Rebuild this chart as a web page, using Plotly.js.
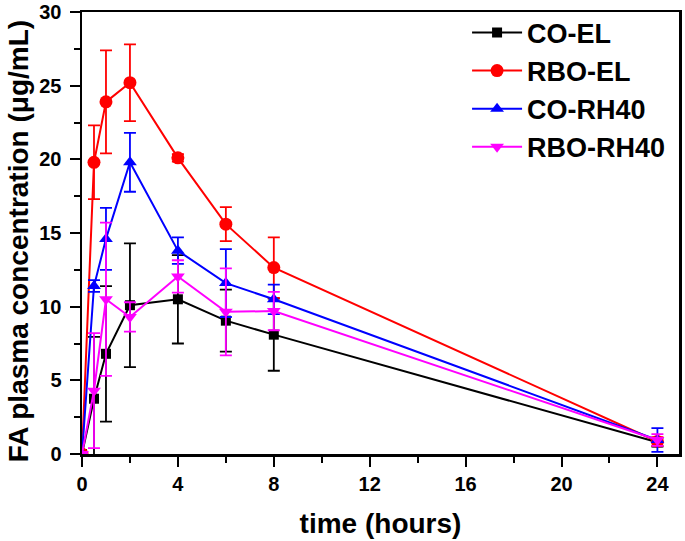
<!DOCTYPE html>
<html>
<head>
<meta charset="utf-8">
<script src="https://cdn.plot.ly/plotly-3.0.1.min.js"></script>
<style>html,body{margin:0;padding:0;background:#fff}#chart{width:685px;height:541px}</style>
</head>
<body>
<div id="chart"></div>
<script>
// time points (hours)
const timeHours = [0, 0.5, 1, 2, 4, 6, 8, 24];
const seriesNames = ["CO-EL", "RBO-EL", "CO-RH40", "RBO-RH40"];

const coEL       = [0, 3.75, 6.8, 10.1, 10.5, 9.05, 8.1, 0.8];
const coELErr    = [0, 4.2, 4.6, 4.2, 3.0, 2.1, 2.45, 0.3];

const rboEL      = [0, 19.8, 23.9, 25.2, 20.1, 15.6, 12.65, 0.85];
const rboELErr   = [0, 2.5, 3.5, 2.6, 0.25, 1.15, 2.05, 0.3];

const coRH40     = [0, 11.4, 14.6, 19.8, 13.8, 11.6, 10.5, 0.95];
const coRH40Err  = [0, 0.4, 2.1, 2.0, 0.9, 2.3, 1.0, 0.8];

const rboRH40    = [0, 4.3, 10.5, 9.3, 12.05, 9.65, 9.7, 0.95];
const rboRH40Err = [0, 3.9, 5.2, 1.0, 1.1, 2.95, 1.3, 0.4];

const colors  = ["#000000", "#ff0000", "#0000ff", "#ff00ff"];
const symbols = ["square", "circle", "triangle-up", "triangle-down"];
const values  = [coEL, rboEL, coRH40, rboRH40];
const errors  = [coELErr, rboELErr, coRH40Err, rboRH40Err];
const sizes   = [10, 13, 12, 12];

const FONT = "Liberation Sans, Arial, sans-serif";

const traces = seriesNames.map((name, i) => ({
  type: "scatter",
  mode: "lines+markers",
  name: name,
  x: timeHours,
  y: values[i],
  line: {color: colors[i], width: 2},
  marker: {symbol: symbols[i], color: colors[i], size: sizes[i]},
  error_y: {type: "data", array: errors[i], visible: true, color: colors[i], thickness: 1.8, width: 6},
  cliponaxis: true
}));

const layout = {
  width: 685, height: 541,
  margin: {l: 82, r: 6, t: 12, b: 87, autoexpand: false},
  paper_bgcolor: "#ffffff",
  plot_bgcolor: "#ffffff",
  font: {family: FONT, color: "#000", size: 20},
  showlegend: true,
  legend: {
    x: 0.645, y: 1.008, xanchor: "left", yanchor: "top",
    bgcolor: "rgba(255,255,255,0)",
    font: {family: FONT, size: 27, color: "#000", weight: "bold"},
    tracegroupgap: 0,
    itemwidth: 50
  },
  xaxis: {
    range: [0, 24.9],
    tickvals: [0, 4, 8, 12, 16, 20, 24],
    ticks: "outside", ticklen: 10, tickwidth: 2, tickcolor: "#000",
    minor: {dtick: 2, ticks: "outside", ticklen: 6, tickwidth: 2, tickcolor: "#000"},
    showline: true, linewidth: 2.5, linecolor: "#000", mirror: true,
    showgrid: false, zeroline: false,
    tickfont: {family: FONT, size: 20, weight: "bold"},
    title: {text: "time (hours)", font: {family: FONT, size: 28, weight: "bold"}, standoff: 20}
  },
  yaxis: {
    range: [0, 30],
    tickvals: [0, 5, 10, 15, 20, 25, 30],
    ticks: "outside", ticklen: 10, tickwidth: 2, tickcolor: "#000",
    minor: {dtick: 2.5, ticks: "outside", ticklen: 6, tickwidth: 2, tickcolor: "#000"},
    showline: true, linewidth: 2.5, linecolor: "#000", mirror: true,
    showgrid: false, zeroline: false,
    ticklabelstandoff: 4,
    tickfont: {family: FONT, size: 20, weight: "bold"}
  },
  annotations: [{
    text: "FA plasma concentration (μg/mL)",
    xref: "paper", yref: "paper",
    x: -0.105, y: 0.482, xanchor: "center", yanchor: "middle",
    textangle: -90, showarrow: false,
    font: {family: FONT, size: 28, weight: "bold", color: "#000"}
  }]
};

Plotly.newPlot("chart", traces, layout, {displayModeBar: false, staticPlot: true});
</script>
</body>
</html>
